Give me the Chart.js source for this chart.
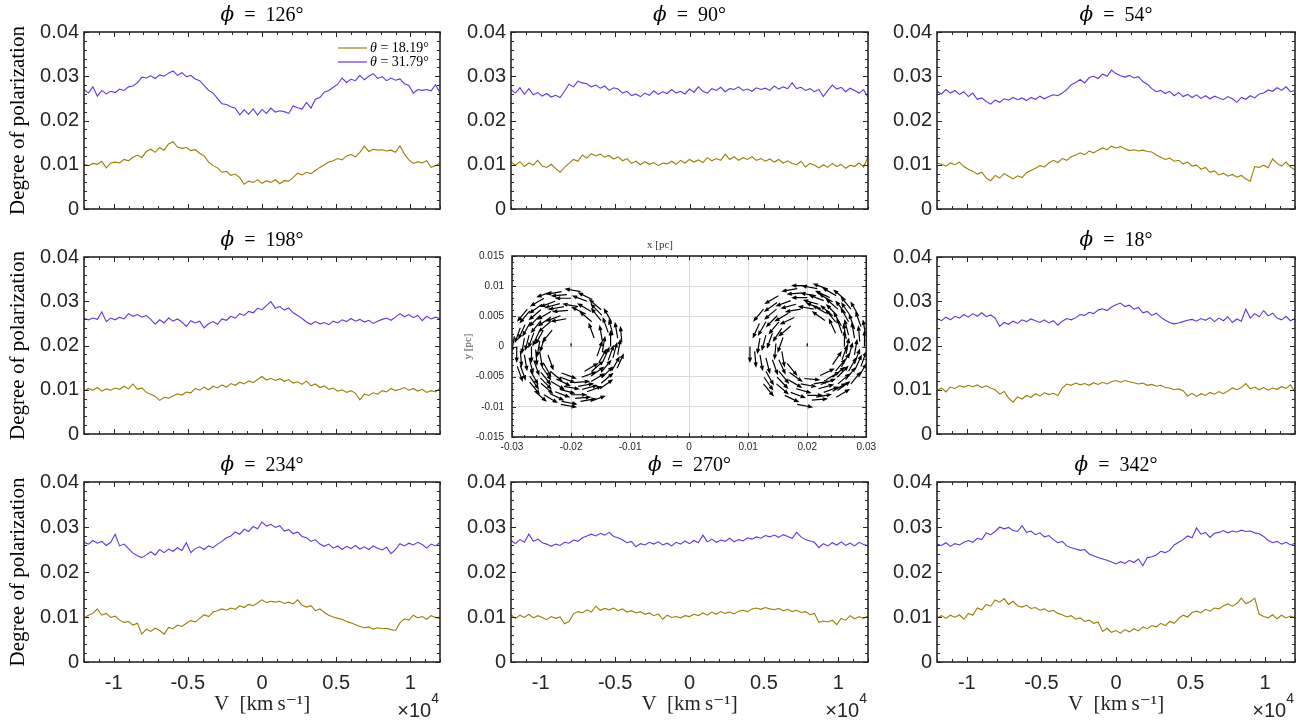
<!DOCTYPE html>
<html>
<head>
<meta charset="utf-8">
<title>Degree of polarization</title>
<script src="https://cdn.jsdelivr.net/npm/chart.js@4.4.1/dist/chart.umd.min.js"></script>
<style>
  html, body { margin: 0; padding: 0; background: #fff; }
  #wrap { position: relative; width: 1312px; height: 722px; overflow: hidden; background: #fff; }
  #wrap canvas { position: absolute; }
</style>
</head>
<body>
<div id="wrap"></div>
<script>
// ==================== Data ====================
const velocity = [
  -12000,-11700,-11400,-11100,-10800,-10500,-10200,-9900,-9600,-9300,
  -9000,-8700,-8400,-8100,-7800,-7500,-7200,-6900,-6600,-6300,
  -6000,-5700,-5400,-5100,-4800,-4500,-4200,-3900,-3600,-3300,
  -3000,-2700,-2400,-2100,-1800,-1500,-1200,-900,-600,-300,
  0,300,600,900,1200,1500,1800,2100,2400,2700,
  3000,3300,3600,3900,4200,4500,4800,5100,5400,5700,
  6000,6300,6600,6900,7200,7500,7800,8100,8400,8700,
  9000,9300,9600,9900,10200,10500,10800,11100,11400,11700,
  12000
];
const velocityTicks = [-10000, -5000, 0, 5000, 10000];

const thetaValues = ['18.19', '31.79'];

// phi = 126
const gold126 = [
  0.0101,0.0098,0.0103,0.0101,0.0108,0.0093,0.0104,0.0106,0.0104,0.0112,
  0.0109,0.0117,0.0122,0.0116,0.0130,0.0135,0.0128,0.0139,0.0133,0.0147,
  0.0152,0.0140,0.0137,0.0139,0.0132,0.0134,0.0126,0.0120,0.0106,0.0098,
  0.0093,0.0083,0.0085,0.0076,0.0079,0.0071,0.0056,0.0063,0.0060,0.0066,
  0.0058,0.0064,0.0060,0.0066,0.0057,0.0064,0.0063,0.0071,0.0081,0.0077,
  0.0083,0.0080,0.0087,0.0094,0.0100,0.0106,0.0109,0.0114,0.0111,0.0120,
  0.0123,0.0118,0.0128,0.0142,0.0130,0.0135,0.0133,0.0134,0.0131,0.0133,
  0.0128,0.0143,0.0124,0.0111,0.0103,0.0107,0.0104,0.0109,0.0094,0.0098,
  0.0104
];
const purple126 = [
  0.0270,0.0262,0.0276,0.0255,0.0268,0.0260,0.0266,0.0263,0.0271,0.0268,
  0.0276,0.0278,0.0285,0.0298,0.0296,0.0301,0.0295,0.0303,0.0300,0.0307,
  0.0312,0.0302,0.0308,0.0299,0.0302,0.0294,0.0290,0.0279,0.0268,0.0262,
  0.0250,0.0238,0.0236,0.0231,0.0228,0.0213,0.0224,0.0214,0.0226,0.0212,
  0.0225,0.0216,0.0228,0.0219,0.0222,0.0220,0.0216,0.0233,0.0229,0.0226,
  0.0241,0.0228,0.0248,0.0252,0.0264,0.0268,0.0275,0.0282,0.0296,0.0286,
  0.0293,0.0290,0.0302,0.0292,0.0300,0.0306,0.0295,0.0299,0.0290,0.0296,
  0.0291,0.0294,0.0283,0.0279,0.0262,0.0270,0.0268,0.0270,0.0267,0.0281,
  0.0263
];

// phi = 90
const gold90 = [
  0.0106,0.0099,0.0107,0.0096,0.0104,0.0099,0.0110,0.0097,0.0094,0.0101,
  0.0092,0.0083,0.0094,0.0103,0.0112,0.0108,0.0122,0.0115,0.0125,0.0120,
  0.0124,0.0117,0.0121,0.0113,0.0118,0.0109,0.0114,0.0103,0.0108,0.0100,
  0.0107,0.0101,0.0105,0.0098,0.0104,0.0102,0.0108,0.0101,0.0110,0.0104,
  0.0112,0.0106,0.0111,0.0105,0.0116,0.0109,0.0114,0.0110,0.0124,0.0112,
  0.0118,0.0110,0.0116,0.0112,0.0118,0.0110,0.0114,0.0108,0.0113,0.0106,
  0.0112,0.0104,0.0109,0.0103,0.0100,0.0108,0.0095,0.0103,0.0099,0.0093,
  0.0100,0.0094,0.0103,0.0096,0.0101,0.0092,0.0099,0.0096,0.0104,0.0095,
  0.0118
];
const purple90 = [
  0.0270,0.0262,0.0274,0.0259,0.0272,0.0258,0.0263,0.0255,0.0261,0.0253,
  0.0257,0.0252,0.0266,0.0282,0.0276,0.0289,0.0285,0.0283,0.0276,0.0280,
  0.0273,0.0278,0.0268,0.0274,0.0271,0.0262,0.0266,0.0256,0.0260,0.0254,
  0.0262,0.0257,0.0267,0.0259,0.0265,0.0261,0.0270,0.0262,0.0266,0.0260,
  0.0271,0.0264,0.0276,0.0266,0.0262,0.0272,0.0268,0.0275,0.0265,0.0272,
  0.0270,0.0276,0.0268,0.0271,0.0266,0.0274,0.0270,0.0273,0.0268,0.0278,
  0.0271,0.0276,0.0272,0.0285,0.0272,0.0275,0.0268,0.0272,0.0265,0.0270,
  0.0254,0.0268,0.0280,0.0271,0.0275,0.0265,0.0273,0.0268,0.0262,0.0270,
  0.0252
];

// phi = 54
const gold54 = [
  0.0104,0.0101,0.0097,0.0104,0.0100,0.0106,0.0096,0.0090,0.0085,0.0079,
  0.0083,0.0070,0.0064,0.0076,0.0070,0.0080,0.0074,0.0068,0.0075,0.0071,
  0.0082,0.0087,0.0092,0.0098,0.0095,0.0104,0.0110,0.0105,0.0114,0.0110,
  0.0118,0.0122,0.0127,0.0123,0.0131,0.0127,0.0133,0.0138,0.0134,0.0142,
  0.0138,0.0141,0.0136,0.0132,0.0134,0.0131,0.0133,0.0130,0.0129,0.0122,
  0.0117,0.0112,0.0115,0.0108,0.0110,0.0102,0.0106,0.0097,0.0099,0.0090,
  0.0094,0.0083,0.0086,0.0077,0.0081,0.0074,0.0078,0.0072,0.0076,0.0068,
  0.0063,0.0096,0.0094,0.0099,0.0093,0.0113,0.0103,0.0097,0.0106,0.0095,
  0.0088
];
const purple54 = [
  0.0266,0.0260,0.0270,0.0262,0.0268,0.0259,0.0265,0.0254,0.0262,0.0248,
  0.0251,0.0243,0.0237,0.0246,0.0241,0.0249,0.0246,0.0252,0.0247,0.0251,
  0.0245,0.0252,0.0248,0.0255,0.0249,0.0254,0.0258,0.0256,0.0262,0.0270,
  0.0281,0.0286,0.0293,0.0285,0.0297,0.0300,0.0295,0.0305,0.0300,0.0314,
  0.0306,0.0301,0.0298,0.0302,0.0296,0.0299,0.0288,0.0282,0.0272,0.0265,
  0.0268,0.0261,0.0266,0.0256,0.0263,0.0254,0.0259,0.0252,0.0258,0.0250,
  0.0256,0.0249,0.0255,0.0251,0.0247,0.0254,0.0249,0.0241,0.0252,0.0248,
  0.0256,0.0251,0.0260,0.0262,0.0269,0.0266,0.0274,0.0268,0.0276,0.0265,
  0.0268
];

// phi = 198
const gold198 = [
  0.0097,0.0103,0.0099,0.0105,0.0097,0.0102,0.0099,0.0104,0.0101,0.0108,
  0.0102,0.0113,0.0101,0.0104,0.0094,0.0090,0.0085,0.0076,0.0083,0.0081,
  0.0086,0.0091,0.0088,0.0095,0.0093,0.0103,0.0099,0.0106,0.0100,0.0108,
  0.0104,0.0111,0.0106,0.0114,0.0110,0.0117,0.0113,0.0120,0.0116,0.0123,
  0.0130,0.0122,0.0126,0.0121,0.0125,0.0119,0.0123,0.0115,0.0118,0.0112,
  0.0120,0.0109,0.0113,0.0105,0.0109,0.0101,0.0104,0.0097,0.0100,0.0094,
  0.0098,0.0092,0.0077,0.0090,0.0087,0.0093,0.0090,0.0098,0.0095,0.0103,
  0.0098,0.0101,0.0105,0.0099,0.0103,0.0097,0.0101,0.0094,0.0098,0.0095,
  0.0104
];
const purple198 = [
  0.0261,0.0258,0.0262,0.0259,0.0276,0.0254,0.0262,0.0258,0.0264,0.0260,
  0.0272,0.0266,0.0270,0.0264,0.0268,0.0259,0.0248,0.0258,0.0251,0.0262,
  0.0255,0.0260,0.0253,0.0243,0.0256,0.0251,0.0255,0.0240,0.0249,0.0254,
  0.0248,0.0260,0.0257,0.0266,0.0262,0.0272,0.0268,0.0277,0.0274,0.0284,
  0.0281,0.0290,0.0299,0.0284,0.0288,0.0280,0.0285,0.0274,0.0268,0.0261,
  0.0253,0.0248,0.0254,0.0249,0.0252,0.0247,0.0255,0.0251,0.0258,0.0254,
  0.0261,0.0255,0.0259,0.0253,0.0257,0.0250,0.0255,0.0259,0.0262,0.0257,
  0.0264,0.0272,0.0265,0.0270,0.0263,0.0268,0.0256,0.0266,0.0260,0.0264,
  0.0261
];

// phi = 18
const gold18 = [
  0.0098,0.0104,0.0095,0.0106,0.0103,0.0109,0.0106,0.0110,0.0107,0.0111,
  0.0105,0.0109,0.0104,0.0100,0.0090,0.0096,0.0081,0.0072,0.0084,0.0079,
  0.0087,0.0083,0.0091,0.0086,0.0093,0.0089,0.0092,0.0087,0.0104,0.0113,
  0.0110,0.0115,0.0111,0.0114,0.0110,0.0116,0.0112,0.0117,0.0113,0.0118,
  0.0121,0.0117,0.0121,0.0118,0.0116,0.0113,0.0115,0.0110,0.0112,0.0108,
  0.0110,0.0105,0.0104,0.0100,0.0102,0.0098,0.0086,0.0092,0.0085,0.0091,
  0.0087,0.0094,0.0090,0.0096,0.0091,0.0097,0.0104,0.0100,0.0105,0.0114,
  0.0102,0.0106,0.0100,0.0105,0.0099,0.0104,0.0101,0.0107,0.0103,0.0111,
  0.0095
];
const purple18 = [
  0.0261,0.0256,0.0264,0.0258,0.0266,0.0262,0.0270,0.0264,0.0272,0.0266,
  0.0274,0.0265,0.0269,0.0262,0.0243,0.0252,0.0248,0.0255,0.0250,0.0258,
  0.0254,0.0260,0.0256,0.0252,0.0258,0.0251,0.0256,0.0246,0.0255,0.0261,
  0.0258,0.0263,0.0270,0.0268,0.0275,0.0272,0.0280,0.0283,0.0279,0.0287,
  0.0292,0.0296,0.0288,0.0291,0.0282,0.0286,0.0274,0.0277,0.0268,0.0273,
  0.0264,0.0257,0.0252,0.0249,0.0251,0.0254,0.0257,0.0259,0.0255,0.0261,
  0.0257,0.0263,0.0254,0.0262,0.0256,0.0265,0.0252,0.0260,0.0255,0.0282,
  0.0262,0.0272,0.0265,0.0279,0.0267,0.0273,0.0262,0.0258,0.0266,0.0256,
  0.0261
];

// phi = 234
const gold234 = [
  0.0098,0.0104,0.0108,0.0118,0.0104,0.0108,0.0099,0.0102,0.0093,0.0088,
  0.0090,0.0082,0.0086,0.0062,0.0073,0.0068,0.0075,0.0070,0.0062,0.0077,
  0.0074,0.0082,0.0079,0.0086,0.0092,0.0089,0.0097,0.0105,0.0101,0.0111,
  0.0114,0.0118,0.0115,0.0120,0.0117,0.0125,0.0121,0.0128,0.0125,0.0131,
  0.0138,0.0132,0.0135,0.0133,0.0135,0.0130,0.0133,0.0129,0.0138,0.0126,
  0.0122,0.0125,0.0114,0.0118,0.0110,0.0104,0.0100,0.0097,0.0095,0.0090,
  0.0087,0.0083,0.0079,0.0076,0.0078,0.0073,0.0076,0.0074,0.0075,0.0072,
  0.0070,0.0087,0.0096,0.0093,0.0104,0.0098,0.0101,0.0095,0.0103,0.0099,
  0.0097
];
const purple234 = [
  0.0266,0.0262,0.0270,0.0264,0.0268,0.0259,0.0266,0.0284,0.0258,0.0262,
  0.0252,0.0242,0.0236,0.0232,0.0238,0.0245,0.0238,0.0250,0.0243,0.0251,
  0.0246,0.0254,0.0248,0.0265,0.0243,0.0252,0.0256,0.0250,0.0258,0.0254,
  0.0262,0.0268,0.0276,0.0280,0.0289,0.0284,0.0295,0.0290,0.0301,0.0296,
  0.0311,0.0302,0.0306,0.0299,0.0303,0.0291,0.0294,0.0285,0.0289,0.0279,
  0.0276,0.0268,0.0272,0.0262,0.0257,0.0262,0.0253,0.0258,0.0250,0.0257,
  0.0252,0.0259,0.0251,0.0256,0.0250,0.0258,0.0253,0.0249,0.0255,0.0241,
  0.0250,0.0263,0.0258,0.0264,0.0260,0.0266,0.0261,0.0253,0.0262,0.0258,
  0.0266
];

// phi = 270
const gold270 = [
  0.0105,0.0097,0.0104,0.0099,0.0106,0.0098,0.0103,0.0099,0.0094,0.0101,
  0.0097,0.0100,0.0085,0.0090,0.0107,0.0112,0.0109,0.0116,0.0111,0.0124,
  0.0115,0.0119,0.0116,0.0120,0.0114,0.0118,0.0111,0.0114,0.0109,0.0112,
  0.0106,0.0109,0.0103,0.0107,0.0095,0.0104,0.0099,0.0101,0.0098,0.0103,
  0.0101,0.0106,0.0103,0.0109,0.0104,0.0111,0.0106,0.0112,0.0108,0.0111,
  0.0107,0.0113,0.0115,0.0112,0.0118,0.0120,0.0117,0.0121,0.0118,0.0116,
  0.0119,0.0114,0.0117,0.0112,0.0115,0.0110,0.0112,0.0105,0.0108,0.0088,
  0.0091,0.0089,0.0093,0.0083,0.0097,0.0093,0.0103,0.0096,0.0101,0.0097,
  0.0103
];
const purple270 = [
  0.0270,0.0263,0.0272,0.0266,0.0284,0.0268,0.0273,0.0265,0.0262,0.0257,
  0.0262,0.0259,0.0266,0.0264,0.0271,0.0268,0.0276,0.0280,0.0284,0.0280,
  0.0286,0.0282,0.0288,0.0279,0.0276,0.0271,0.0265,0.0268,0.0256,0.0263,
  0.0260,0.0266,0.0262,0.0267,0.0260,0.0264,0.0258,0.0266,0.0262,0.0269,
  0.0263,0.0270,0.0265,0.0282,0.0267,0.0273,0.0266,0.0271,0.0268,0.0275,
  0.0267,0.0272,0.0269,0.0276,0.0273,0.0278,0.0275,0.0281,0.0278,0.0282,
  0.0277,0.0283,0.0279,0.0275,0.0288,0.0278,0.0272,0.0269,0.0266,0.0254,
  0.0263,0.0258,0.0265,0.0260,0.0267,0.0259,0.0264,0.0258,0.0266,0.0261,
  0.0259
];

// phi = 342
const gold342 = [
  0.0098,0.0103,0.0097,0.0104,0.0099,0.0105,0.0095,0.0108,0.0104,0.0120,
  0.0116,0.0128,0.0124,0.0138,0.0133,0.0141,0.0128,0.0135,0.0125,0.0122,
  0.0126,0.0119,0.0121,0.0115,0.0118,0.0112,0.0115,0.0108,0.0105,0.0100,
  0.0103,0.0095,0.0098,0.0090,0.0093,0.0086,0.0089,0.0068,0.0075,0.0066,
  0.0070,0.0064,0.0072,0.0067,0.0074,0.0069,0.0078,0.0074,0.0081,0.0078,
  0.0086,0.0081,0.0090,0.0086,0.0097,0.0104,0.0100,0.0110,0.0113,0.0109,
  0.0117,0.0113,0.0120,0.0118,0.0125,0.0129,0.0124,0.0130,0.0142,0.0130,
  0.0134,0.0142,0.0106,0.0101,0.0098,0.0105,0.0096,0.0104,0.0098,0.0102,
  0.0098
];
const purple342 = [
  0.0262,0.0259,0.0265,0.0257,0.0263,0.0260,0.0266,0.0270,0.0266,0.0275,
  0.0272,0.0287,0.0283,0.0290,0.0300,0.0296,0.0299,0.0292,0.0290,0.0303,
  0.0288,0.0291,0.0283,0.0287,0.0278,0.0281,0.0272,0.0265,0.0268,0.0258,
  0.0254,0.0251,0.0248,0.0250,0.0240,0.0236,0.0232,0.0229,0.0226,0.0222,
  0.0218,0.0223,0.0219,0.0226,0.0221,0.0229,0.0214,0.0232,0.0234,0.0238,
  0.0246,0.0243,0.0248,0.0260,0.0266,0.0272,0.0280,0.0276,0.0298,0.0284,
  0.0288,0.0277,0.0286,0.0288,0.0292,0.0287,0.0291,0.0289,0.0293,0.0290,
  0.0291,0.0287,0.0285,0.0279,0.0270,0.0265,0.0268,0.0262,0.0266,0.0260,
  0.0264
];

// quiver arrows [x, y, u, v] in pc
const leftVortex = [
  [-0.0184, 0.0091, -0.00187, 0.00033], [-0.0216, 0.0091, -0.00187, -0.00033],
  [-0.0246, 0.0080, -0.00165, -0.00095], [-0.0270, 0.0059, -0.00122, -0.00146],
  [-0.0286, 0.0031, -0.00065, -0.00179], [-0.0292, 0.0000, 0.00000, -0.00190],
  [-0.0286, -0.0031, 0.00065, -0.00179], [-0.0270, -0.0059, 0.00122, -0.00146],
  [-0.0246, -0.0080, 0.00165, -0.00095], [-0.0216, -0.0091, 0.00187, -0.00033],
  [-0.0184, -0.0091, 0.00187, 0.00033],
  [-0.0233, 0.0091, -0.00179, -0.00065], [-0.0274, 0.0062, -0.00122, -0.00146],
  [-0.0296, 0.0017, -0.00033, -0.00187], [-0.0291, -0.0033, 0.00065, -0.00179],
  [-0.0262, -0.0074, 0.00146, -0.00122], [-0.0217, -0.0096, 0.00187, -0.00033],
  [-0.0167, -0.0091, 0.00179, 0.00065],
  [-0.0207, 0.0086, -0.00189, -0.00017], [-0.0249, 0.0070, -0.00156, -0.00109],
  [-0.0278, 0.0036, -0.00080, -0.00172], [-0.0286, -0.0007, 0.00017, -0.00189],
  [-0.0270, -0.0049, 0.00109, -0.00156], [-0.0236, -0.0078, 0.00172, -0.00080],
  [-0.0193, -0.0086, 0.00189, 0.00017], [-0.0151, -0.0070, 0.00156, 0.00109],
  [-0.0122, -0.0036, 0.00080, 0.00172], [-0.0114, 0.0007, -0.00017, 0.00189],
  [-0.0164, 0.0078, -0.00172, 0.00080],
  [-0.0173, 0.0075, -0.00179, 0.00065], [-0.0200, 0.0080, -0.00190, 0.00000],
  [-0.0227, 0.0075, -0.00179, -0.00065], [-0.0251, 0.0061, -0.00146, -0.00122],
  [-0.0269, 0.0040, -0.00095, -0.00165], [-0.0279, 0.0014, -0.00033, -0.00187],
  [-0.0279, -0.0014, 0.00033, -0.00187], [-0.0269, -0.0040, 0.00095, -0.00165],
  [-0.0251, -0.0061, 0.00146, -0.00122], [-0.0227, -0.0075, 0.00179, -0.00065],
  [-0.0200, -0.0080, 0.00190, 0.00000], [-0.0173, -0.0075, 0.00179, 0.00065],
  [-0.0149, -0.0061, 0.00146, 0.00122], [-0.0131, -0.0040, 0.00095, 0.00165],
  [-0.0121, -0.0014, 0.00033, 0.00187], [-0.0121, 0.0014, -0.00033, 0.00187],
  [-0.0131, 0.0040, -0.00095, 0.00165], [-0.0149, 0.0061, -0.00146, 0.00122],
  [-0.0219, 0.0071, -0.00184, -0.00049], [-0.0252, 0.0052, -0.00134, -0.00134],
  [-0.0271, 0.0019, -0.00049, -0.00184], [-0.0271, -0.0019, 0.00049, -0.00184],
  [-0.0252, -0.0052, 0.00134, -0.00134], [-0.0219, -0.0071, 0.00184, -0.00049],
  [-0.0181, -0.0071, 0.00184, 0.00049], [-0.0148, -0.0052, 0.00134, 0.00134],
  [-0.0129, -0.0019, 0.00049, 0.00184], [-0.0129, 0.0019, -0.00049, 0.00184],
  [-0.0148, 0.0052, -0.00134, 0.00134],
  [-0.0166, 0.0058, -0.00165, 0.00095], [-0.0188, 0.0066, -0.00187, 0.00033],
  [-0.0212, 0.0066, -0.00187, -0.00033], [-0.0234, 0.0058, -0.00165, -0.00095],
  [-0.0251, 0.0043, -0.00122, -0.00146], [-0.0263, 0.0023, -0.00065, -0.00179],
  [-0.0267, 0.0000, 0.00000, -0.00190], [-0.0263, -0.0023, 0.00065, -0.00179],
  [-0.0251, -0.0043, 0.00122, -0.00146], [-0.0234, -0.0058, 0.00165, -0.00095],
  [-0.0212, -0.0066, 0.00187, -0.00033], [-0.0188, -0.0066, 0.00187, 0.00033],
  [-0.0166, -0.0058, 0.00165, 0.00095], [-0.0149, -0.0043, 0.00122, 0.00146],
  [-0.0137, -0.0023, 0.00065, 0.00179], [-0.0133, 0.0000, 0.00000, 0.00190],
  [-0.0137, 0.0023, -0.00065, 0.00179], [-0.0149, 0.0043, -0.00122, 0.00146],
  [-0.0175, 0.0054, -0.00172, 0.00080], [-0.0205, 0.0060, -0.00189, -0.00017],
  [-0.0234, 0.0049, -0.00156, -0.00109], [-0.0254, 0.0025, -0.00080, -0.00172],
  [-0.0260, -0.0005, 0.00017, -0.00189], [-0.0249, -0.0034, 0.00109, -0.00156],
  [-0.0225, -0.0054, 0.00172, -0.00080], [-0.0195, -0.0060, 0.00189, 0.00017],
  [-0.0166, -0.0049, 0.00156, 0.00109], [-0.0146, -0.0025, 0.00080, 0.00172],
  [-0.0165, 0.0041, -0.00146, 0.00122], [-0.0218, 0.0051, -0.00179, -0.00065],
  [-0.0235, 0.0041, -0.00146, -0.00122], [-0.0247, 0.0027, -0.00095, -0.00165],
  [-0.0253, 0.0009, -0.00033, -0.00187], [-0.0253, -0.0009, 0.00033, -0.00187],
  [-0.0247, -0.0027, 0.00095, -0.00165], [-0.0235, -0.0041, 0.00146, -0.00122],
  [-0.0218, -0.0051, 0.00179, -0.00065], [-0.0182, -0.0051, 0.00179, 0.00065],
  [-0.0165, -0.0041, 0.00146, 0.00122], [-0.0153, -0.0027, 0.00095, 0.00165],
  [-0.0147, -0.0009, 0.00033, 0.00187], [-0.0147, 0.0009, -0.00033, 0.00187],
  [-0.0208, 0.0046, -0.00187, -0.00033], [-0.0244, 0.0016, -0.00065, -0.00179],
  [-0.0216, -0.0044, 0.00179, -0.00065], [-0.0177, -0.0041, 0.00165, 0.00095],
  [-0.0156, -0.0016, 0.00065, 0.00179],
  [-0.0232, 0.0027, -0.00122, -0.00146], [-0.0239, -0.0014, 0.00065, -0.00179],
  [-0.0161, 0.0014, -0.00065, 0.00179], [-0.0200, 0.0000, 0.00000, 0.00030]
];

const rightVortex = [
  [0.0287, -0.0051, 0.00095, 0.00165], [0.0299, -0.0018, 0.00033, 0.00187],
  [0.0299, 0.0018, -0.00033, 0.00187], [0.0287, 0.0051, -0.00095, 0.00165],
  [0.0265, 0.0077, -0.00146, 0.00122], [0.0235, 0.0095, -0.00179, 0.00065],
  [0.0200, 0.0101, -0.00190, 0.00000],
  [0.0249, -0.0084, 0.00165, 0.00095], [0.0274, -0.0062, 0.00122, 0.00146],
  [0.0291, -0.0033, 0.00065, 0.00179], [0.0297, 0.0000, 0.00000, 0.00190],
  [0.0291, 0.0033, -0.00065, 0.00179], [0.0274, 0.0062, -0.00122, 0.00146],
  [0.0249, 0.0084, -0.00165, 0.00095], [0.0217, 0.0096, -0.00187, 0.00033],
  [0.0183, 0.0096, -0.00187, -0.00033], [0.0151, 0.0084, -0.00165, -0.00095],
  [0.0126, 0.0062, -0.00122, -0.00146], [0.0103, 0.0000, 0.00000, -0.00190],
  [0.0126, -0.0062, 0.00122, -0.00146], [0.0183, -0.0096, 0.00187, -0.00033],
  [0.0289, 0.0008, -0.00017, 0.00189], [0.0273, 0.0051, -0.00109, 0.00156],
  [0.0238, 0.0081, -0.00172, 0.00080], [0.0192, 0.0089, -0.00189, -0.00017],
  [0.0149, 0.0073, -0.00156, -0.00109], [0.0119, 0.0038, -0.00080, -0.00172],
  [0.0111, -0.0008, 0.00017, -0.00189], [0.0127, -0.0051, 0.00109, -0.00156],
  [0.0162, -0.0081, 0.00172, -0.00080], [0.0208, -0.0089, 0.00189, 0.00017],
  [0.0251, -0.0073, 0.00156, 0.00109], [0.0281, -0.0038, 0.00080, 0.00172],
  [0.0215, -0.0084, 0.00187, 0.00033], [0.0243, -0.0074, 0.00165, 0.00095],
  [0.0265, -0.0055, 0.00122, 0.00146], [0.0280, -0.0029, 0.00065, 0.00179],
  [0.0280, 0.0029, -0.00065, 0.00179], [0.0265, 0.0055, -0.00122, 0.00146],
  [0.0243, 0.0074, -0.00165, 0.00095], [0.0215, 0.0084, -0.00187, 0.00033],
  [0.0280, -0.0014, 0.00033, 0.00187], [0.0280, 0.0014, -0.00033, 0.00187],
  [0.0270, 0.0041, -0.00095, 0.00165], [0.0252, 0.0062, -0.00146, 0.00122],
  [0.0228, 0.0076, -0.00179, 0.00065], [0.0200, 0.0081, -0.00190, 0.00000],
  [0.0172, 0.0076, -0.00179, -0.00065], [0.0148, 0.0062, -0.00146, -0.00122],
  [0.0130, 0.0041, -0.00095, -0.00165], [0.0120, 0.0014, -0.00033, -0.00187],
  [0.0120, -0.0014, 0.00033, -0.00187], [0.0130, -0.0041, 0.00095, -0.00165],
  [0.0148, -0.0062, 0.00146, -0.00122], [0.0172, -0.0076, 0.00179, -0.00065],
  [0.0200, -0.0081, 0.00190, 0.00000], [0.0228, -0.0076, 0.00179, 0.00065],
  [0.0252, -0.0062, 0.00146, 0.00122], [0.0270, -0.0041, 0.00095, 0.00165],
  [0.0270, 0.0019, -0.00049, 0.00184], [0.0251, 0.0051, -0.00134, 0.00134],
  [0.0219, 0.0070, -0.00184, 0.00049], [0.0181, 0.0070, -0.00184, -0.00049],
  [0.0149, 0.0051, -0.00134, -0.00134], [0.0130, 0.0019, -0.00049, -0.00184],
  [0.0130, -0.0019, 0.00049, -0.00184], [0.0149, -0.0051, 0.00134, -0.00134],
  [0.0181, -0.0070, 0.00184, -0.00049], [0.0219, -0.0070, 0.00184, 0.00049],
  [0.0251, -0.0051, 0.00134, 0.00134], [0.0270, -0.0019, 0.00049, 0.00184],
  [0.0266, 0.0012, -0.00033, 0.00187], [0.0258, 0.0034, -0.00095, 0.00165],
  [0.0243, 0.0051, -0.00146, 0.00122], [0.0223, 0.0063, -0.00179, 0.00065],
  [0.0223, -0.0063, 0.00179, 0.00065], [0.0243, -0.0051, 0.00146, 0.00122],
  [0.0258, -0.0034, 0.00095, 0.00165], [0.0266, -0.0012, 0.00033, 0.00187],
  [0.0263, 0.0000, 0.00000, 0.00190], [0.0259, 0.0022, -0.00065, 0.00179],
  [0.0248, 0.0041, -0.00122, 0.00146], [0.0232, 0.0055, -0.00165, 0.00095],
  [0.0211, 0.0062, -0.00187, 0.00033], [0.0189, 0.0062, -0.00187, -0.00033],
  [0.0168, 0.0055, -0.00165, -0.00095], [0.0152, 0.0041, -0.00122, -0.00146],
  [0.0141, 0.0022, -0.00065, -0.00179], [0.0141, -0.0022, 0.00065, -0.00179],
  [0.0152, -0.0041, 0.00122, -0.00146], [0.0168, -0.0055, 0.00165, -0.00095],
  [0.0189, -0.0062, 0.00187, -0.00033], [0.0211, -0.0062, 0.00187, 0.00033],
  [0.0232, -0.0055, 0.00165, 0.00095], [0.0248, -0.0041, 0.00122, 0.00146],
  [0.0259, -0.0022, 0.00065, 0.00179],
  [0.0248, 0.0022, -0.00080, 0.00172], [0.0230, 0.0043, -0.00156, 0.00109],
  [0.0178, 0.0048, -0.00172, -0.00080], [0.0157, 0.0030, -0.00109, -0.00156],
  [0.0147, 0.0005, -0.00017, -0.00189], [0.0152, -0.0022, 0.00080, -0.00172],
  [0.0170, -0.0043, 0.00156, -0.00109], [0.0195, -0.0053, 0.00189, -0.00017],
  [0.0222, -0.0048, 0.00172, 0.00080], [0.0243, -0.0030, 0.00109, 0.00156],
  [0.0172, 0.0034, -0.00146, -0.00122], [0.0159, 0.0015, -0.00065, -0.00179],
  [0.0157, -0.0008, 0.00033, -0.00187], [0.0166, -0.0028, 0.00122, -0.00146],
  [0.0200, 0.0000, 0.00000, 0.00030]
];

// panels, row by row (null = map panel)
const phiValues = [126, 90, 54, 198, null, 18, 234, 270, 342];
const goldSeries = [gold126, gold90, gold54, gold198, null, gold18, gold234, gold270, gold342];
const purpleSeries = [purple126, purple90, purple54, purple198, null, purple18, purple234, purple270, purple342];

// ==================== Layout / Styles ====================
const GOLD = '#9a7e00';
const PURPLE = '#6333e6';
const INK = '#262626';
const SANS = '"Liberation Sans", Arial, sans-serif';
const SERIF = '"Liberation Serif", "DejaVu Serif", serif';

const COL_LEFT = [84, 511, 937];
const COL_W = [356, 357, 358];
const ROW_TOP = [32, 257, 482];
const PLOT_H = 180;

function isMultiple(v, step) {
  const r = v / step;
  return Math.abs(r - Math.round(r)) < 1e-6;
}

// ==================== Plugins ====================
const framePlugin = {
  id: 'frame',
  afterDatasetsDraw(chart, args, o) {
    const { ctx, chartArea: a, scales: { x, y } } = chart;
    ctx.save();
    ctx.strokeStyle = INK;
    ctx.lineWidth = 1;
    ctx.beginPath();
    const nx = Math.round((x.max - x.min) / o.xMinor);
    for (let k = 0; k <= nx; k++) {
      const v = x.min + k * o.xMinor;
      const px = Math.round(x.getPixelForValue(v)) + 0.5;
      const len = isMultiple(v, o.xMajor) ? o.major : o.minor;
      ctx.moveTo(px, a.bottom); ctx.lineTo(px, a.bottom - len);
      ctx.moveTo(px, a.top); ctx.lineTo(px, a.top + len);
    }
    const ny = Math.round((y.max - y.min) / o.yMinor);
    for (let k = 0; k <= ny; k++) {
      const v = y.min + k * o.yMinor;
      const py = Math.round(y.getPixelForValue(v)) + 0.5;
      const len = isMultiple(v, o.yMajor) ? o.major : o.minor;
      ctx.moveTo(a.left, py); ctx.lineTo(a.left + len, py);
      ctx.moveTo(a.right, py); ctx.lineTo(a.right - len, py);
    }
    ctx.stroke();
    ctx.lineWidth = 1.6;
    ctx.strokeRect(a.left, a.top, a.right - a.left, a.bottom - a.top);
    ctx.restore();
  }
};

const phiTitlePlugin = {
  id: 'phiTitle',
  afterDraw(chart, args, o) {
    if (o.value == null) return;
    const { ctx, chartArea: a } = chart;
    ctx.save();
    ctx.fillStyle = '#000';
    ctx.textBaseline = 'middle';
    ctx.textAlign = 'left';
    const symFont = 'italic 20px "DejaVu Serif", serif';
    const restFont = '20px ' + SERIF;
    const rest = '\u2002=\u2002' + o.value + '°';
    ctx.font = symFont;
    const w1 = ctx.measureText('ϕ').width;
    ctx.font = restFont;
    const w2 = ctx.measureText(rest).width;
    const x0 = (a.left + a.right) / 2 - (w1 + w2) / 2;
    const y0 = a.top - 16;
    ctx.font = symFont;
    ctx.fillText('ϕ', x0, y0);
    ctx.font = restFont;
    ctx.fillText(rest, x0 + w1, y0);
    ctx.restore();
  }
};

const thetaLegendPlugin = {
  id: 'thetaLegend',
  afterDraw(chart, args, o) {
    if (!o.show) return;
    const { ctx, chartArea: a } = chart;
    ctx.save();
    chart.data.datasets.forEach((ds, i) => {
      const yy = a.top + 16 + i * 14;
      ctx.strokeStyle = ds.borderColor;
      ctx.lineWidth = 1.2;
      ctx.beginPath();
      ctx.moveTo(a.right - 102, yy);
      ctx.lineTo(a.right - 73, yy);
      ctx.stroke();
      ctx.fillStyle = '#000';
      ctx.textBaseline = 'middle';
      ctx.textAlign = 'left';
      ctx.font = 'italic 14px ' + SERIF;
      ctx.fillText('θ', a.right - 70, yy);
      const w = ctx.measureText('θ').width;
      ctx.font = '14px ' + SERIF;
      ctx.fillText(' = ' + thetaValues[i] + '°', a.right - 70 + w, yy);
    });
    ctx.restore();
  }
};

const exponentPlugin = {
  id: 'exponent',
  afterDraw(chart, args, o) {
    if (!o.show) return;
    const { ctx, chartArea: a } = chart;
    ctx.save();
    ctx.fillStyle = INK;
    ctx.textAlign = 'right';
    ctx.textBaseline = 'alphabetic';
    ctx.font = '14px ' + SANS;
    ctx.fillText('4', a.right - 1, a.bottom + 41);
    const w = ctx.measureText('4').width;
    ctx.font = '20px ' + SANS;
    ctx.fillText('×10', a.right - 1 - w, a.bottom + 55);
    ctx.restore();
  }
};

// draws quiver arrows, scaled like matlab's auto scale factor
const quiverPlugin = {
  id: 'quiver',
  afterDatasetsDraw(chart, args, o) {
    const { ctx, chartArea: a, scales: { x, y } } = chart;
    const k = o.scale || 1;
    ctx.save();
    ctx.beginPath();
    ctx.rect(a.left, a.top, a.right - a.left, a.bottom - a.top);
    ctx.clip();
    ctx.strokeStyle = '#000';
    ctx.lineWidth = 1.2;
    ctx.beginPath();
    chart.data.datasets.forEach(ds => ds.data.forEach(p => {
      const x0 = x.getPixelForValue(p.x), y0 = y.getPixelForValue(p.y);
      const x1 = x.getPixelForValue(p.x + k * p.u), y1 = y.getPixelForValue(p.y + k * p.v);
      const ang = Math.atan2(y1 - y0, x1 - x0);
      const hl = Math.hypot(x1 - x0, y1 - y0) * 0.28;
      ctx.moveTo(x0, y0);
      ctx.lineTo(x1, y1);
      ctx.moveTo(x1 - hl * Math.cos(ang - 0.38), y1 - hl * Math.sin(ang - 0.38));
      ctx.lineTo(x1, y1);
      ctx.lineTo(x1 - hl * Math.cos(ang + 0.38), y1 - hl * Math.sin(ang + 0.38));
    }));
    ctx.stroke();
    ctx.restore();
  }
};

// ==================== Canvas helper ====================
function makeCanvas(left, top, w, h) {
  const c = document.createElement('canvas');
  c.width = w;
  c.height = h;
  c.style.left = left + 'px';
  c.style.top = top + 'px';
  c.style.width = w + 'px';
  c.style.height = h + 'px';
  document.getElementById('wrap').appendChild(c);
  return c;
}

// ==================== Line panels ====================
function linePanel(idx) {
  const row = Math.floor(idx / 3), col = idx % 3;
  const bottomRow = row === 2, leftCol = col === 0;
  const below = bottomRow ? 60 : 14;
  const cv = makeCanvas(COL_LEFT[col] - 84, ROW_TOP[row] - 32, 84 + COL_W[col] + 10, 32 + PLOT_H + below);
  const toPoints = arr => velocity.map((v, i) => ({ x: v, y: arr[i] }));

  new Chart(cv, {
    type: 'line',
    data: {
      datasets: [
        { label: 'θ = ' + thetaValues[0] + '°', data: toPoints(goldSeries[idx]), borderColor: GOLD, borderWidth: 1.1, pointRadius: 0, tension: 0, fill: false },
        { label: 'θ = ' + thetaValues[1] + '°', data: toPoints(purpleSeries[idx]), borderColor: PURPLE, borderWidth: 1.1, pointRadius: 0, tension: 0, fill: false }
      ]
    },
    options: {
      responsive: false,
      animation: false,
      events: [],
      layout: { padding: { left: 0, right: 10, top: 32, bottom: 0 } },
      plugins: {
        legend: { display: false },
        tooltip: { enabled: false },
        frame: { xMinor: 1000, xMajor: 5000, yMinor: 0.002, yMajor: 0.01, major: 5, minor: 3 },
        phiTitle: { value: phiValues[idx] },
        thetaLegend: { show: idx === 0 },
        exponent: { show: bottomRow }
      },
      scales: {
        x: {
          type: 'linear', min: -12000, max: 12000,
          grid: { display: false, drawTicks: false },
          border: { display: false },
          afterBuildTicks: s => { s.ticks = velocityTicks.map(v => ({ value: v })); },
          ticks: {
            display: bottomRow, autoSkip: false, maxRotation: 0,
            padding: 9, color: INK, font: { family: SANS, size: 20 },
            callback: v => String(v / 10000)
          },
          title: {
            display: bottomRow, text: 'V\u2002[km\u2009s⁻¹]', color: INK,
            font: { family: SERIF, size: 21 }, padding: { top: 0, bottom: 5.4 }
          },
          afterFit: s => { s.height = below; }
        },
        y: {
          type: 'linear', min: 0, max: 0.04,
          grid: { display: false, drawTicks: false },
          border: { display: false },
          ticks: {
            stepSize: 0.01, padding: 5, color: INK, font: { family: SANS, size: 20 },
            callback: v => v === 0 ? '0' : v.toFixed(2)
          },
          title: {
            display: leftCol, text: 'Degree of polarization', color: '#000',
            font: { family: SERIF, size: 21 }, padding: { top: 5.4, bottom: 0 }
          },
          afterFit: s => { s.width = 84; }
        }
      }
    },
    plugins: [framePlugin, phiTitlePlugin, thetaLegendPlugin, exponentPlugin]
  });
}

// ==================== Map panel ====================
function mapPanel() {
  const left = 512, top = 256, w = 356, h = 181;
  const cv = makeCanvas(left - 60, top - 20, 60 + w + 12, 20 + h + 22);
  const toArrows = arr => arr.map(a => ({ x: a[0], y: a[1], u: a[2], v: a[3] }));
  const fmt = v => String(parseFloat(v.toFixed(4)));

  new Chart(cv, {
    type: 'scatter',
    data: {
      datasets: [
        { data: toArrows(leftVortex), pointRadius: 0 },
        { data: toArrows(rightVortex), pointRadius: 0 }
      ]
    },
    options: {
      responsive: false,
      animation: false,
      events: [],
      layout: { padding: { left: 0, right: 12, top: 0, bottom: 0 } },
      plugins: {
        legend: { display: false },
        tooltip: { enabled: false },
        title: {
          display: true, text: 'x [pc]', color: '#333',
          font: { family: SERIF, size: 11, weight: 'normal' }, padding: { top: 3, bottom: 3.8 }
        },
        frame: { xMinor: 0.002, xMajor: 0.01, yMinor: 0.001, yMajor: 0.005, major: 4, minor: 2 },
        quiver: { scale: 1.3 }
      },
      scales: {
        x: {
          type: 'linear', min: -0.03, max: 0.03,
          grid: { color: '#dadada', lineWidth: 1, drawTicks: false },
          border: { display: false },
          ticks: { stepSize: 0.01, autoSkip: false, maxRotation: 0, padding: 4, color: INK, font: { family: SANS, size: 10 }, callback: fmt },
          afterFit: s => { s.height = 22; }
        },
        y: {
          type: 'linear', min: -0.015, max: 0.015,
          grid: { color: '#dadada', lineWidth: 1, drawTicks: false },
          border: { display: false },
          ticks: { stepSize: 0.005, autoSkip: false, padding: 8, color: INK, font: { family: SANS, size: 10 }, callback: fmt },
          title: {
            display: true, text: 'y [pc]', color: '#555',
            font: { family: SERIF, size: 11 }, padding: { top: 9.4, bottom: 0 }
          },
          afterFit: s => { s.width = 60; }
        }
      }
    },
    plugins: [quiverPlugin, framePlugin]
  });
}

// ==================== Init ====================
phiValues.forEach((phi, i) => {
  if (phi === null) mapPanel();
  else linePanel(i);
});
</script>
</body>
</html>
